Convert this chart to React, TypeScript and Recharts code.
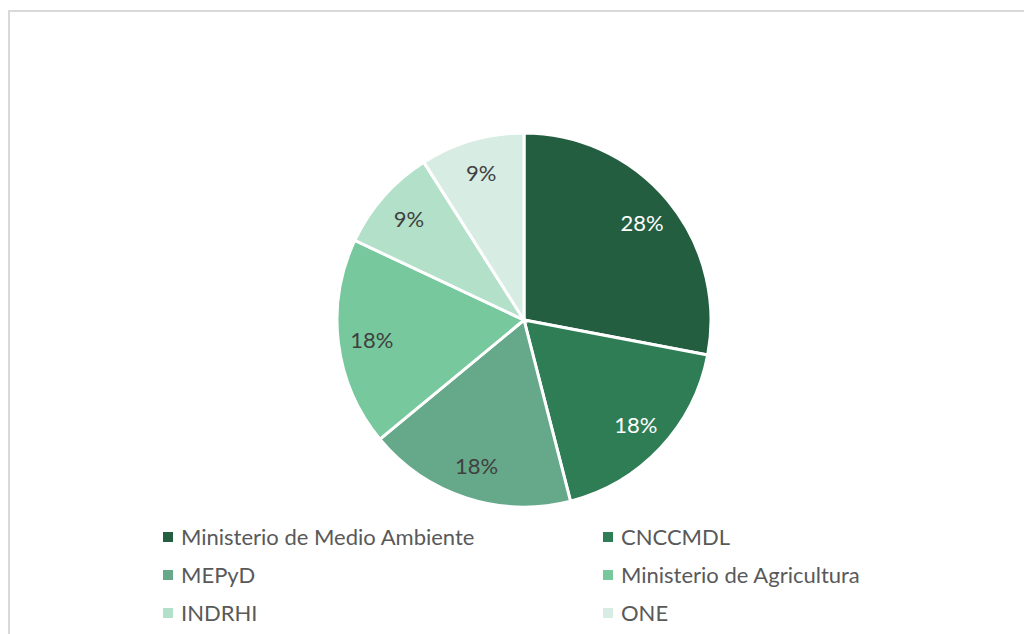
import React from "react";
import { PieChart, Pie, Cell, Legend } from "recharts";

const categories = [
  "Ministerio de Medio Ambiente",
  "CNCCMDL",
  "MEPyD",
  "Ministerio de Agricultura",
  "INDRHI",
  "ONE",
];
const values = [28, 18, 18, 18, 9, 9];
const colors = ["#245E41", "#2E7D55", "#66A88A", "#77C99D", "#B3E0C8", "#D7ECE3"];
const labelColors = ["#FFFFFF", "#FFFFFF", "#404040", "#404040", "#404040", "#404040"];

const data = categories.map((name, i) => ({ name, value: values[i] }));
const total = values.reduce((a, b) => a + b, 0);
const FONT = "Lato, 'Open Sans', sans-serif";
const RAD = Math.PI / 180;

const renderLabel = (props: any) => {
  const { cx, cy, midAngle, outerRadius, index, value } = props;
  const r = outerRadius * 0.82;
  const x = cx + r * Math.cos(-midAngle * RAD);
  const y = cy + r * Math.sin(-midAngle * RAD);
  return (
    <text
      x={x}
      y={y}
      fill={labelColors[index]}
      textAnchor="middle"
      dominantBaseline="central"
      fontFamily={FONT}
      fontSize={22}
    >
      {`${Math.round((value / total) * 100)}%`}
    </text>
  );
};

const renderLegend = () => {
  return (
    <div style={{ position: "relative", width: 1024, height: 120 }}>
      {categories.map((name, i) => {
        const col = i % 2;
        const row = Math.floor(i / 2);
        const left = col === 0 ? 153 : 593;
        const top = row * 38;
        return (
          <div
            key={name}
            style={{
              position: "absolute",
              left,
              top,
              display: "flex",
              alignItems: "center",
              fontFamily: FONT,
              fontSize: 22,
              color: "#595959",
              whiteSpace: "nowrap",
              lineHeight: "26px",
            }}
          >
            <span
              style={{
                display: "inline-block",
                width: 10,
                height: 10,
                background: colors[i],
                marginRight: 8,
              }}
            />
            {name}
          </div>
        );
      })}
    </div>
  );
};

export default function App() {
  return (
    <div
      style={{
        marginTop: 2,
        width: 1030,
        height: 640,
        borderTop: "2px solid #D9D9D9",
        borderLeft: "2px solid #D9D9D9",
        background: "#FFFFFF",
        boxSizing: "border-box",
      }}
    >
      <PieChart width={1024} height={636} margin={{ top: 0, right: 0, bottom: 0, left: 0 }}>
        <Pie
          data={data}
          dataKey="value"
          nameKey="name"
          cx={514}
          cy={308}
          outerRadius={187}
          startAngle={90}
          endAngle={-270}
          stroke="#FFFFFF"
          strokeWidth={3}
          label={renderLabel}
          labelLine={false}
          isAnimationActive={false}
        >
          {data.map((d, i) => (
            <Cell key={d.name} fill={colors[i]} />
          ))}
        </Pie>
        <Legend
          content={renderLegend}
          wrapperStyle={{ position: "absolute", left: 0, top: 512, width: 1024 }}
        />
      </PieChart>
    </div>
  );
}
